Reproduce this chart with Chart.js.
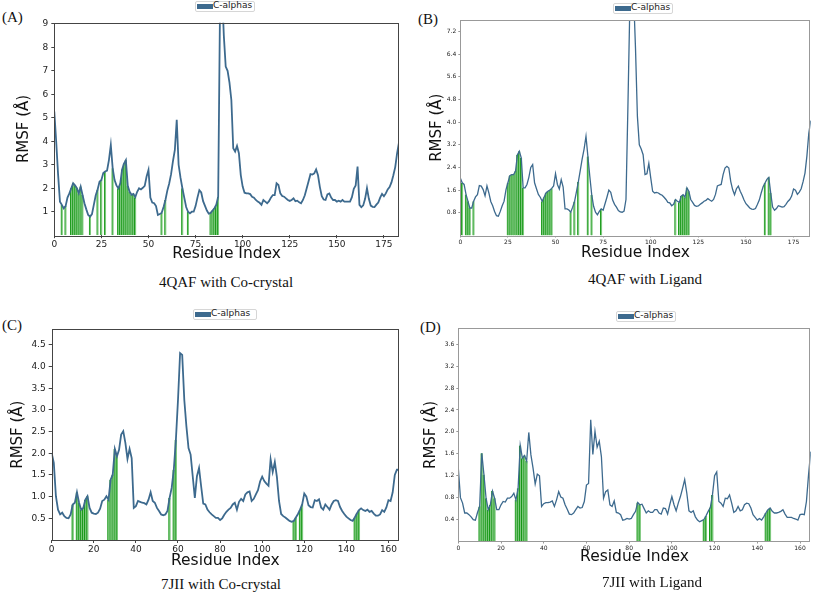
<!DOCTYPE html>
<html>
<head>
<meta charset="utf-8">
<script src="https://cdn.jsdelivr.net/npm/chart.js@4.4.1/dist/chart.umd.min.js"></script>
<style>
  body { margin: 0; background: #fff; width: 813px; height: 596px; position: relative; overflow: hidden; }
  canvas { position: absolute; }
  .lbl { position: absolute; font-family: 'Liberation Serif'; font-size: 15px; line-height: 15px; color: #111; white-space: nowrap; }
  .cap { position: absolute; font-family: 'Liberation Serif'; font-size: 15px; line-height: 15px; width: 300px; text-align: center; color: #111; white-space: nowrap; }
  .leg { position: absolute; height: 9px; width: 58px; border: 1px solid #d6d6d6; border-radius: 2px; background: #fff; }
  .leg i { position: absolute; left: 1px; top: 2px; width: 16px; height: 5px; background: #3d6a8e; }
  .leg span { position: absolute; left: 17px; top: -2px; font: 9px/11px 'DejaVu Sans'; color: #222; white-space: nowrap; }
</style>
</head>
<body>

<div class="lbl" style="left:2px;top:10px">(A)</div>
<div class="lbl" style="left:418px;top:12px">(B)</div>
<div class="lbl" style="left:2px;top:318px">(C)</div>
<div class="lbl" style="left:420px;top:320px">(D)</div>

<div class="leg" style="left:195px;top:1px"><i></i><span>C-alphas</span></div>
<div class="leg" style="left:613px;top:3px"><i></i><span>C-alphas</span></div>
<div class="leg" style="left:193px;top:309px;width:62px"><i></i><span>C-alphas</span></div>
<div class="leg" style="left:616px;top:311px"><i></i><span>C-alphas</span></div>

<canvas id="cA" width="403" height="270" style="left:0;top:0"></canvas>
<canvas id="cB" width="410" height="270" style="left:403px;top:0"></canvas>
<canvas id="cC" width="403" height="275" style="left:0;top:300px"></canvas>
<canvas id="cD" width="410" height="275" style="left:403px;top:300px"></canvas>

<div class="cap" style="left:76px;top:275px">4QAF with Co-crystal</div>
<div class="cap" style="left:495px;top:272px">4QAF with Ligand</div>
<div class="cap" style="left:71px;top:577px">7JII with Co-crystal</div>
<div class="cap" style="left:502px;top:575px">7JII with Ligand</div>

<script>
// RMSF per residue (index = residue number)
const rmsfA = [
  5.27, 4.0, 2.6, 1.43, 1.29, 1.14, 1.24, 1.6, 1.78, 2.0,
  2.21, 2.12, 2.0, 1.78, 2.07, 1.71, 1.36, 1.1, 0.86, 0.79,
  0.9, 1.3, 1.7, 1.95, 2.28, 2.35, 2.65, 2.71, 2.75, 3.2,
  3.84, 2.85, 2.35, 2.12, 2.0, 2.2, 2.8, 3.05, 3.2, 2.1,
  1.85, 1.72, 1.76, 1.62, 1.85, 2.0, 1.95, 2.02, 2.1, 2.5,
  2.78, 1.6, 1.39, 1.36, 1.24, 0.86, 0.9, 0.95, 1.2, 1.5,
  1.9, 2.2, 2.6, 3.15, 3.63, 4.91, 3.0, 2.45, 2.0, 1.6,
  1.2, 1.0, 0.93, 1.0, 1.0, 1.24, 1.6, 1.92, 1.82, 1.45,
  1.25, 1.05, 0.92, 0.95, 1.05, 1.15, 1.3, 1.64, 9.9, 10.5,
  8.5, 7.18, 7.0, 6.5, 5.76, 3.7, 3.56, 3.8, 3.49, 2.56,
  2.07, 1.81, 1.78, 1.78, 1.75, 1.64, 1.6, 1.5, 1.43, 1.38,
  1.29, 1.5, 1.43, 1.36, 1.45, 1.6, 1.71, 1.71, 2.21, 2.14,
  1.78, 1.67, 1.64, 1.57, 1.5, 1.46, 1.5, 1.57, 1.45, 1.47,
  1.4, 1.36, 1.5, 1.7, 2.0, 2.3, 2.6, 2.58, 2.63, 2.8,
  2.55, 2.05, 1.66, 1.52, 1.5, 1.74, 1.78, 1.6, 1.5, 1.5,
  1.43, 1.47, 1.43, 1.5, 1.43, 1.43, 1.43, 1.43, 1.62, 1.98,
  2.12, 2.92, 1.29, 1.19, 1.27, 1.55, 2.0, 1.55, 1.26, 1.21,
  1.2, 1.3, 1.39, 1.6, 1.76, 1.66, 1.78, 1.95, 2.05, 2.25,
  2.55, 2.9, 3.5, 3.95
];
const rmsfB = [
  2.03, 1.86, 1.8, 1.45, 1.21, 0.97, 0.97, 1.21, 1.36, 1.44,
  1.76, 1.74, 1.62, 1.4, 1.75, 1.5, 1.2, 1.05, 0.85, 0.7,
  0.68, 0.85, 1.05, 1.21, 1.62, 1.86, 2.11, 2.15, 2.15, 2.27,
  2.85, 2.97, 2.74, 1.68, 1.68, 1.8, 2.05, 2.4, 2.5, 1.86,
  1.65, 1.45, 1.35, 1.21, 1.35, 1.5, 1.56, 1.6, 1.66, 1.75,
  2.18, 1.8, 1.64, 1.97, 1.71, 0.94, 0.94, 0.9, 0.82, 1.0,
  1.2, 1.55, 1.9, 2.3, 2.7, 3.05, 3.5, 2.79, 2.09, 1.44,
  1.03, 0.82, 0.73, 0.85, 0.94, 0.89, 1.12, 1.35, 1.6, 1.52,
  1.25, 1.1, 1.0, 0.88, 0.83, 0.82, 0.86, 1.27, 4.5, 8.0,
  10.0, 8.5, 6.6, 4.2, 3.2, 3.05, 2.85, 2.15, 2.18, 2.54,
  2.03, 1.56, 1.5, 1.52, 1.5, 1.45, 1.42, 1.35, 1.27, 1.17,
  1.15, 1.05, 1.1, 1.27, 1.21, 1.17, 1.39, 1.44, 1.35, 1.68,
  1.56, 1.27, 1.17, 1.06, 1.03, 1.04, 1.1, 1.15, 1.21, 1.24,
  1.3, 1.25, 1.21, 1.27, 1.45, 1.75, 1.78, 1.8, 2.15, 2.38,
  2.44, 2.38, 1.91, 1.62, 1.44, 1.65, 1.74, 1.56, 1.42, 1.25,
  1.12, 1.05, 0.97, 0.93, 0.92, 0.95, 1.09, 1.25, 1.5, 1.72,
  1.85, 1.98, 2.05, 1.5, 1.0, 0.89, 0.95, 1.05, 1.03, 1.0,
  1.02, 1.1, 1.2, 1.27, 1.39, 1.64, 1.6, 1.45, 1.53, 1.65,
  1.9, 2.2, 2.8, 3.6, 4.05
];
const rmsfC = [
  2.0, 1.78, 1.01, 0.7, 0.59, 0.63, 0.55, 0.51, 0.5, 0.59,
  0.82, 0.86, 1.1, 0.86, 0.7, 0.74, 0.93, 1.01, 0.74, 0.63,
  0.61, 0.6, 0.63, 0.72, 0.9, 0.93, 1.01, 0.93, 1.39, 1.51,
  2.1, 1.93, 2.08, 2.43, 2.51, 2.24, 1.87, 2.1, 1.89, 0.74,
  0.78, 0.9, 0.88, 0.86, 0.85, 0.82, 0.93, 1.1, 0.9, 0.86,
  0.74, 0.67, 0.59, 0.57, 0.59, 0.67, 0.97, 1.2, 1.62, 2.31,
  3.23, 4.31, 4.27, 3.23, 2.62, 2.12, 1.97, 1.47, 0.97, 1.47,
  1.66, 1.24, 0.84, 0.82, 0.7, 0.64, 0.59, 0.55, 0.51, 0.51,
  0.46, 0.5, 0.58, 0.65, 0.7, 0.74, 0.82, 0.86, 0.7, 0.88,
  0.95, 0.9, 1.05, 1.1, 1.12, 0.9, 0.95, 1.05, 1.15, 1.35,
  1.46, 1.36, 1.3, 1.25, 1.86, 1.57, 1.8, 1.45, 0.9, 0.6,
  0.55, 0.52, 0.48, 0.44, 0.42, 0.44, 0.52, 0.6, 0.7, 0.82,
  1.07, 1.0, 0.8, 0.76, 0.75, 0.92, 0.9, 0.94, 0.75, 0.7,
  0.82, 0.76, 0.7, 0.82, 0.9, 0.92, 0.9, 0.76, 0.67, 0.6,
  0.54, 0.5, 0.46, 0.44, 0.52, 0.61, 0.69, 0.73, 0.69, 0.67,
  0.7, 0.65, 0.67, 0.61, 0.56, 0.56, 0.59, 0.69, 0.65, 0.75,
  0.92, 0.9, 1.1, 1.5, 1.62, 1.62
];
const rmsfD = [
  1.34, 0.80, 0.70, 0.52, 0.52, 0.49, 0.45, 0.40, 0.39, 0.53,
  0.64, 1.61, 1.22, 0.79, 0.58, 0.67, 0.92, 0.79, 0.58, 0.58,
  0.67, 0.73, 0.72, 0.79, 0.79, 0.82, 0.88, 0.76, 0.97, 1.75,
  1.52, 1.57, 1.47, 1.99, 1.58, 1.34, 1.05, 1.23, 1.20, 0.64,
  0.69, 0.71, 0.71, 0.72, 0.74, 0.64, 0.76, 0.91, 0.81, 0.79,
  0.67, 0.59, 0.50, 0.49, 0.52, 0.58, 0.64, 0.61, 0.62, 0.73,
  1.03, 1.06, 2.22, 1.59, 2.01, 1.72, 1.83, 1.55, 0.79, 0.91,
  0.94, 0.67, 0.64, 0.74, 0.53, 0.52, 0.49, 0.39, 0.40, 0.42,
  0.41, 0.42, 0.49, 0.55, 0.71, 0.67, 0.68, 0.60, 0.52, 0.56,
  0.53, 0.53, 0.58, 0.58, 0.52, 0.50, 0.61, 0.60, 0.50, 0.67,
  0.82, 0.67, 0.56, 0.70, 0.82, 0.97, 1.13, 0.88, 0.56, 0.53,
  0.56, 0.45, 0.39, 0.36, 0.38, 0.40, 0.47, 0.55, 0.62, 0.85,
  1.20, 1.27, 0.73, 0.70, 0.64, 0.79, 0.78, 0.85, 0.70, 0.53,
  0.56, 0.64, 0.56, 0.58, 0.67, 0.70, 0.69, 0.61, 0.49, 0.44,
  0.39, 0.42, 0.39, 0.45, 0.52, 0.58, 0.61, 0.55, 0.52, 0.52,
  0.53, 0.55, 0.58, 0.50, 0.44, 0.44, 0.44, 0.42, 0.41, 0.39,
  0.49, 0.50, 0.49, 0.73, 1.22, 1.64
];

// residues in contact with the ligand (green bars)
const contactsA = [4, 6, 9, 10, 11, 12, 13, 14, 15, 19, 23, 25, 27, 31, 34, 35, 36, 37, 38, 39, 40, 41, 42, 43, 57, 59, 68, 71, 83, 84, 85, 86, 87];
const contactsB = [1, 3, 4, 5, 7, 25, 26, 27, 28, 29, 30, 31, 32, 33, 43, 44, 45, 46, 47, 48, 58, 60, 62, 67, 69, 74, 113, 115, 116, 117, 118, 119, 120, 160, 162, 163];
const contactsC = [10, 12, 13, 14, 15, 16, 17, 27, 28, 29, 30, 31, 56, 58, 59, 115, 116, 118, 119, 144, 145, 146];
const contactsD = [10, 11, 12, 13, 14, 15, 16, 17, 27, 28, 29, 30, 31, 32, 84, 85, 115, 116, 118, 119, 144, 145, 146];

// tick labels
const xTicks4QAF = [0, 25, 50, 75, 100, 125, 150, 175];
const xTicks7JII = [0, 20, 40, 60, 80, 100, 120, 140, 160];
const yTicksA = [1, 2, 3, 4, 5, 6, 7, 8, 9];
const yTicksB = [0.8, 1.6, 2.4, 3.2, 4.0, 4.8, 5.6, 6.4, 7.2];
const yTicksC = [0.5, 1.0, 1.5, 2.0, 2.5, 3.0, 3.5, 4.0, 4.5];
const yTicksD = [0.4, 0.8, 1.2, 1.6, 2.0, 2.4, 2.8, 3.2, 3.6];

const frame = {
  id: 'frame',
  afterDatasetsDraw(chart, args, opts) {
    const { ctx, chartArea: a } = chart;
    ctx.save();
    ctx.strokeStyle = opts.color;
    ctx.lineWidth = 1;
    ctx.strokeRect(Math.round(a.left) + 0.5, Math.round(a.top) + 0.5, Math.round(a.width) - 1, Math.round(a.height));
    ctx.restore();
  }
};

function drawPanel(id, rmsf, contacts, xTicks, yTicks, g) {
  const points = rmsf.map((v, i) => ({ x: i, y: v }));
  const bars = contacts.map(r => ({ x: r, y: rmsf[r] }));
  new Chart(document.getElementById(id), {
    type: 'line',
    data: {
      datasets: [
        {
          type: 'line', label: 'C-alphas', data: points,
          borderColor: '#3d6a8e', borderWidth: g.lw, pointRadius: 0, tension: 0, order: 0
        },
        {
          type: 'bar', label: 'contacts', data: bars,
          backgroundColor: '#7cc87c', borderColor: '#179817',
          borderWidth: { left: 1.2, right: 0, top: 0, bottom: 0 }, borderSkipped: false,
          barThickness: g.barW, order: 1
        }
      ]
    },
    options: {
      responsive: false,
      animation: false,
      devicePixelRatio: 1,
      layout: { padding: { left: 0, top: g.padT, right: g.padR, bottom: 0 } },
      plugins: { legend: { display: false }, tooltip: { enabled: false }, frame: { color: g.frameCol } },
      scales: {
        x: {
          type: 'linear', min: 0, max: rmsf.length - 1, offset: false,
          afterBuildTicks: s => { s.ticks = xTicks.map(v => ({ value: v })); },
          afterFit: s => { s.height = g.xH; },
          grid: { drawOnChartArea: false, drawTicks: true, tickLength: g.tickLen, tickColor: g.frameCol, offset: false },
          border: { display: false },
          ticks: { autoSkip: false, maxRotation: 0, padding: 1, color: '#222', font: { family: 'DejaVu Sans', size: g.tickSize } },
          title: { display: true, text: 'Residue Index', color: '#111', font: { family: 'DejaVu Sans', size: 15.5 }, padding: { top: 0, bottom: g.xTitlePad } }
        },
        y: {
          type: 'linear', min: 0, max: g.yMax,
          afterBuildTicks: s => { s.ticks = yTicks.map(v => ({ value: v })); },
          afterFit: s => { s.width = g.yW; },
          grid: { drawOnChartArea: false, drawTicks: true, tickLength: g.tickLen, tickColor: g.frameCol },
          border: { display: false },
          ticks: {
            padding: g.tickPad, color: '#222', font: { family: 'DejaVu Sans', size: g.tickSize },
            callback: v => g.yDec ? v.toFixed(g.yDec) : String(v)
          },
          title: { display: true, text: 'RMSF (Å)', color: '#111', font: { family: 'DejaVu Sans', size: 15 }, padding: { top: g.yTitlePad, bottom: 0 } }
        }
      }
    },
    plugins: [frame]
  });
}

drawPanel('cA', rmsfA, contactsA, xTicks4QAF, yTicksA, {
  padT: 22.7, padR: 4, yW: 54.3, xH: 34.8, yMax: 9.05, yDec: 0,
  yTitlePad: 15, xTitlePad: 6.5, tickSize: 9, tickLen: 3, tickPad: 3,
  lw: 1.8, barW: 1.9, frameCol: '#444'
});
drawPanel('cB', rmsfB, contactsB, xTicks4QAF, yTicksB, {
  padT: 20, padR: 2.3, yW: 57.3, xH: 34.5, yMax: 7.6, yDec: 1,
  yTitlePad: 25.5, xTitlePad: 7.5, tickSize: 6, tickLen: 2, tickPad: 2,
  lw: 1.3, barW: 1.9, frameCol: '#999'
});
drawPanel('cC', rmsfC, contactsC, xTicks7JII, yTicksC, {
  padT: 29.3, padR: 4, yW: 51.7, xH: 35, yMax: 4.86, yDec: 1,
  yTitlePad: 9.3, xTitlePad: 4.5, tickSize: 9, tickLen: 3, tickPad: 3,
  lw: 1.8, barW: 2.1, frameCol: '#444'
});
drawPanel('cD', rmsfD, contactsD, xTicks7JII, yTicksD, {
  padT: 28.3, padR: 2.3, yW: 55.3, xH: 33.5, yMax: 3.89, yDec: 1,
  yTitlePad: 19, xTitlePad: 8.5, tickSize: 6, tickLen: 2, tickPad: 2,
  lw: 1.3, barW: 2.1, frameCol: '#999'
});
</script>
</body>
</html>
